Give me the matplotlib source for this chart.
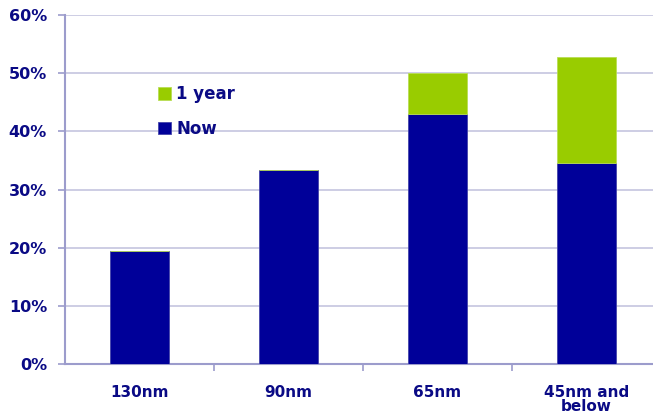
import matplotlib
matplotlib.use("Agg")
import matplotlib.pyplot as plt
from matplotlib.ticker import FixedLocator, PercentFormatter

categories = ["130nm", "90nm", "65nm", "45nm and\nbelow"]
now_vals = [19.4, 33.4, 43.0, 34.6]
year_vals = [0.0, 0.0, 7.0, 18.2]
y_ticks = [0, 10, 20, 30, 40, 50, 60]

NAVY = "#000099"
GREEN = "#99CC00"
TEXT = "#0A0A85"
GRID = "#C0C0DC"
AXIS = "#9C9CCC"

plt.rcParams["font.family"] = ["DejaVu Sans"]
plt.rcParams["font.weight"] = "bold"

fig = plt.figure(figsize=(6.53, 4.17), dpi=100)
W, H = 653, 417
ax = fig.add_axes([65 / W, 53 / H, 596 / W, 349 / H])

x = list(range(len(categories)))
b_now = ax.bar(x, now_vals, width=0.4, color=NAVY, edgecolor="#4444AA",
               linewidth=0.6, zorder=3, label="Now")
b_year = ax.bar(x, year_vals, width=0.4, bottom=now_vals, color=GREEN,
                edgecolor="#B8DD55", linewidth=0.6, zorder=3, label="1 year")

ax.set_xlim(-0.5, len(categories) - 0.5)
ax.set_ylim(0, 60)
ax.yaxis.set_major_locator(FixedLocator(y_ticks))
ax.yaxis.set_major_formatter(PercentFormatter(decimals=0))
ax.grid(axis="y", color=GRID, linewidth=1.1, zorder=0)
ax.set_axisbelow(True)

ax.set_xticks(x)
ax.set_xticklabels(categories, fontsize=11, fontweight="bold", color=TEXT,
                   linespacing=0.95)
ax.tick_params(axis="x", which="major", length=0, pad=15)
ax.set_xticks([i + 0.5 for i in x[:-1]], minor=True)
ax.tick_params(axis="x", which="minor", length=5, color=AXIS, width=1.2,
               direction="out")
ax.tick_params(axis="y", length=5, color=AXIS, width=1.2, pad=8,
               labelsize=11.5, labelcolor=TEXT)
for lab in ax.get_yticklabels():
    lab.set_fontweight("bold")

for side in ("top", "right"):
    ax.spines[side].set_visible(False)
for side in ("left", "bottom"):
    ax.spines[side].set_color(AXIS)
    ax.spines[side].set_linewidth(1.5)

leg = ax.legend(handles=[b_year, b_now], loc="upper left",
                bbox_to_anchor=(78 / 596, (364 - 70) / 349), frameon=False,
                handlelength=0.8, handleheight=0.8, handletextpad=0.3,
                labelspacing=1.0, prop={"size": 12, "weight": "bold"})
for t in leg.get_texts():
    t.set_color(TEXT)

fig.savefig("out.png", dpi=100)
